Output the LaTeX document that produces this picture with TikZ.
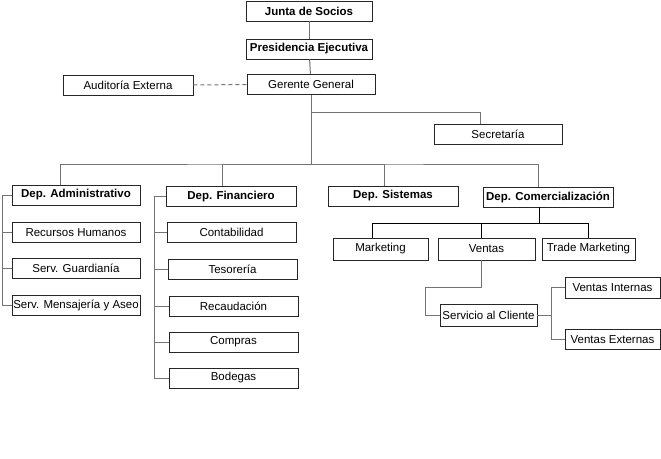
\documentclass[tikz,border=0pt]{standalone}
\usepackage{fontspec}
\setmainfont{Liberation Sans}
\begin{document}
\begin{tikzpicture}[x=1pt,y=-1pt,
    caja/.style={draw=black!85, line width=0.9pt, inner sep=0pt, minimum height=20pt, font=\fontsize{11.5}{13}\selectfont},
    cajab/.style={caja, font=\fontsize{11.5}{13}\selectfont\bfseries},
    linea/.style={draw=black!55, line width=1pt}]
    \useasboundingbox (0,0) rectangle (661,458);
        \node[cajab, minimum width=126pt] (junta) at (309,11) {Junta de Socios};
        \node[cajab, minimum width=126pt] (pres) at (309,49) {Presidencia Ejecutiva};
        \node[caja, minimum width=128pt] (gerente) at (311,84.5) {Gerente General};
        \node[caja, minimum width=130pt] (audit) at (128,85) {Auditoría Externa};
        \node[caja, minimum width=128pt] (secre) at (498,134.5) {Secretaría};
        \node[cajab, minimum width=128pt] (admin) at (76,195) {Dep. Administrativo};
        \node[cajab, minimum width=130pt] (finan) at (231,196.5) {Dep. Financiero};
        \node[cajab, minimum width=130pt] (siste) at (393,196) {Dep. Sistemas};
        \node[cajab, minimum width=130pt] (comer) at (548,197) {Dep. Comercialización};
        \node[caja, minimum width=128pt] (rrhh) at (76,232.5) {Recursos Humanos};
        \node[caja, minimum width=128pt] (guard) at (76,268) {Serv. Guardianía};
        \node[caja, minimum width=128pt] (mensa) at (76,305) {Serv. Mensajería y Aseo};
        \node[caja, minimum width=129pt] (conta) at (231.5,232.5) {Contabilidad};
        \node[caja, minimum width=129pt] (teso) at (232.5,269) {Tesorería};
        \node[caja, minimum width=129pt] (recau) at (233.5,306) {Recaudación};
        \node[caja, minimum width=129pt] (compr) at (233.5,342) {Compras};
        \node[caja, minimum width=129pt] (bodeg) at (233.5,378) {Bodegas};
        \node[caja, minimum width=95pt, minimum height=22pt] (mkt) at (380.5,249) {Marketing};
        \node[caja, minimum width=97pt, minimum height=22pt] (ventas) at (486.5,249) {Ventas};
        \node[caja, minimum width=93pt, minimum height=22pt] (trade) at (588.5,249) {Trade Marketing};
        \node[caja, minimum width=97pt, minimum height=22pt] (servi) at (488.5,315) {Servicio al Cliente};
        \node[caja, minimum width=95pt, minimum height=21pt] (vint) at (612.5,287.5) {Ventas Internas};
        \node[caja, minimum width=95pt] (vext) at (612.5,339.5) {Ventas Externas};
        \coordinate (bus) at (311,164);
        \coordinate (ramal) at (311,112);
        \coordinate (codo) at (425,287);
        \draw[linea] (junta) -- (pres);
        \draw[linea] (pres) -- (gerente);
        \draw[linea, dash pattern=on 4pt off 3pt] (audit) -- (gerente);
        \draw[linea] (gerente) -- (bus);
        \draw[linea] (ramal) -| ([xshift=-18pt]secre.north);
        \draw[linea] ([xshift=-16pt]admin.north) |- (bus) -| ([xshift=-10pt]comer.north);
        \draw[linea] ([xshift=-9pt]finan.north) |- (bus);
        \draw[linea] ([xshift=-9pt]siste.north) |- (bus);
        \foreach \n in {rrhh,guard,mensa}
            \draw[linea] (admin.west) -- ++(-9,0) |- (\n.west);
        \foreach \n in {conta,teso,recau,compr,bodeg}
            \draw[linea] (finan.west) -- ++(-11,0) |- (\n.west);
        \foreach \n/\s in {mkt/-8,ventas/-5,trade/0}
            \draw[linea, black] ([xshift=-9pt]comer.south) -- ++(0,16) -| ([xshift=\s pt]\n.north);
        \draw[linea] ([xshift=-5pt]ventas.south) |- (codo) |- (servi.west);
        \draw[linea] (servi.east) -- ++(14,0) coordinate (rama);
        \foreach \n in {vint,vext}
            \draw[linea] (rama) |- (\n.west);
\end{tikzpicture}
\end{document}
